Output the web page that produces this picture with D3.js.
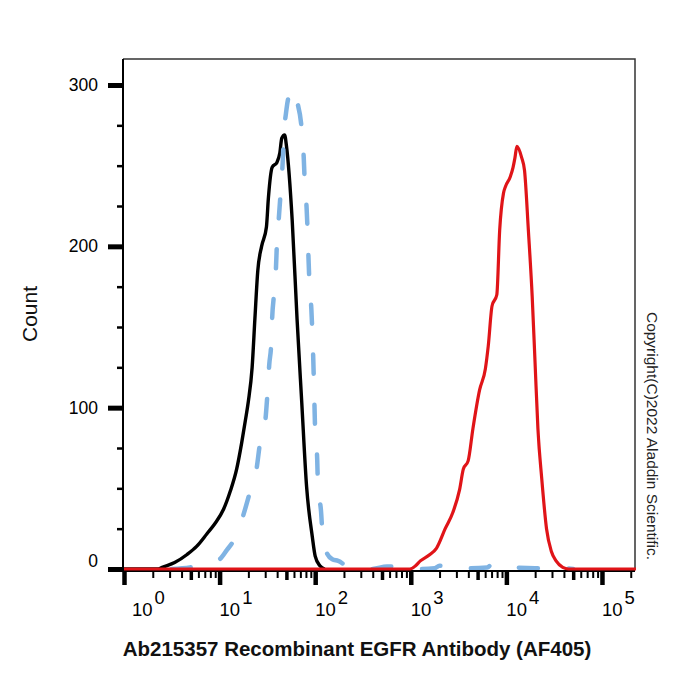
<!DOCTYPE html>
<html>
<head>
<meta charset="utf-8">
<script src="https://cdn.jsdelivr.net/npm/d3@7"></script>
<style>
  html, body { margin: 0; padding: 0; background: #fff; }
  svg { display: block; font-family: "Liberation Sans", Arial, Helvetica, sans-serif; }
</style>
</head>
<body>
<svg id="chart" width="700" height="700"></svg>
<script>
// Histogramme (Fluoreszenz, log-Achse)

// Kontrolle (schwarz, durchgezogen)
const controlX = [1, 2.29, 2.51, 3.39, 4.57, 5.75, 7.41, 8.91, 11.0, 12.9, 15.1, 17.0, 18.6, 20.0, 21.9, 23.4,
  25.1, 27.5, 30.9, 32.4, 35.5, 39.8, 42.7, 44.7, 47.9, 50.1, 57.5, 64.6, 72.4, 81.3, 93.3, 100, 112, 126];
const controlCount = [0, 0, 1, 4, 9, 14, 22, 28, 37, 48, 62, 78, 92, 104, 125, 155,
  185, 200, 212, 230, 249, 252, 258, 267, 269, 262, 216, 155, 103, 51, 20, 8, 2, 0];

// Isotyp (hellblau, gestrichelt)
const isotypeX = [3.16, 4.9, 7.08, 10, 12.0, 13.8, 17.4, 20.4, 24.5, 26.3, 30.2, 31.6, 33.1, 34.7, 35.5, 37.2,
  38.9, 39.8, 41.7, 43.7, 45.7, 46.8, 50.1, 55.0, 58.9, 64.6, 72.4, 75.9, 77.6, 81.3, 83.2, 85.1, 87.1,
  91.2, 93.3, 95.5, 97.7, 100, 105, 107, 115, 120, 132, 151, 174, 229, 282, 398, 562, 891, 1122, 1778,
  1995, 3548, 3981, 6310, 7079, 10471, 12023, 19953, 39811, 50119];
const isotypeCount = [0, 1, 3, 6, 12, 17, 32, 46, 63, 77, 93, 108, 127, 140, 156, 171,
  187, 202, 218, 235, 252, 266, 285, 296, 298, 290, 272, 255, 241, 224, 210, 193, 177,
  161, 147, 130, 108, 85, 68, 51, 36, 20, 10, 6, 5, 1, 0.5, 0, 1.5, 1.5, 0, 0.5,
  2, 2, 0.5, 1, 3, 3, 1, 0.5, 0.5, 0];

// EGFR-Antikörper (rot)
const stainedX = [1, 977, 1122, 1259, 1585, 1862, 2291, 2754, 3236, 3548, 3981, 4467, 5248, 6026, 6457, 7079,
  7943, 8511, 9333, 9772, 10965, 11749, 12303, 12882, 14454, 15488, 16982, 18621, 19953, 21380, 23442,
  26303, 29512, 33113, 38905, 44668, 227000];
const stainedCount = [0, 0, 2, 5, 9, 13, 25, 35, 49, 62, 67, 87, 111, 124, 138, 163,
  170, 210, 233, 237, 243, 249, 255, 262, 255, 247, 210, 169, 128, 87, 56,
  25, 11, 5, 1, 0, 0];

// Achsen
const xMajor = [1, 10, 100, 1e3, 1e4, 1e5];
const xExponents = ["0", "1", "2", "3", "4", "5"];
const yMajor = [0, 100, 200, 300];
const yMinor = [25, 50, 75, 125, 150, 175, 225, 250, 275];

const xTitle = "Ab215357 Recombinant EGFR Antibody (AF405)";
const yTitle = "Count";
const copyright = "Copyright(C)2022 Aladdin Scientific.";

const svg = d3.select("#chart");

const frame = { left: 123, right: 635, top: 59, bottom: 570 };

const x = d3.scaleLog()
  .domain([1, 227000])
  .range([124, 636]);

const y = d3.scaleLinear()
  .domain([0, 300])
  .range([569, 85]);

const xMinor = [];
for (let e = 0; e < 6; e++) {
  for (let k = 2; k <= 9; k++) {
    const v = k * Math.pow(10, e);
    if (v <= 227000) xMinor.push(v);
  }
}

// Rahmen (oben / rechts)
svg.append("path")
  .attr("d", `M${frame.left},${frame.top}H${frame.right}V${frame.bottom}`)
  .attr("fill", "none")
  .attr("stroke", "#333")
  .attr("stroke-width", 1.5);

// Kurven
const line = d3.line()
  .x(d => x(d[0]))
  .y(d => y(d[1]))
  .curve(d3.curveMonotoneX);

const zip = (a, b) => a.map((v, i) => [v, b[i]]);

svg.append("path")
  .datum(zip(controlX, controlCount))
  .attr("d", line)
  .attr("fill", "none")
  .attr("stroke", "#000")
  .attr("stroke-width", 3.4)
  .attr("stroke-linejoin", "round");

svg.append("path")
  .datum(zip(isotypeX, isotypeCount))
  .attr("d", line)
  .attr("fill", "none")
  .attr("stroke", "#7fb3e3")
  .attr("stroke-width", 4.5)
  .attr("stroke-dasharray", "19,31")
  .attr("stroke-linecap", "round");

// x-Achse Linie
svg.append("line")
  .attr("x1", frame.left).attr("x2", frame.right)
  .attr("y1", 571).attr("y2", 571)
  .attr("stroke", "#000")
  .attr("stroke-width", 2);

svg.append("path")
  .datum(zip(stainedX, stainedCount))
  .attr("d", line)
  .attr("fill", "none")
  .attr("stroke", "#e01418")
  .attr("stroke-width", 3.2)
  .attr("stroke-linejoin", "round");

// x-Achse: Ticks
const xMinorAxis = svg.append("g")
  .attr("transform", "translate(0,571)")
  .call(d3.axisBottom(x).tickValues(xMinor).tickSize(7).tickFormat(""));
xMinorAxis.select(".domain").remove();
xMinorAxis.selectAll(".tick line")
  .attr("stroke", "#000")
  .attr("stroke-width", d => (String(d)[0] === "5" ? 3.5 : 2))
  .attr("y2", d => (String(d)[0] === "5" ? 9 : 7));

const xMajorAxis = svg.append("g")
  .attr("transform", "translate(0,571)")
  .call(d3.axisBottom(x).tickValues(xMajor).tickSize(14).tickFormat(""));
xMajorAxis.select(".domain").remove();
xMajorAxis.selectAll(".tick line")
  .attr("stroke", "#000")
  .attr("stroke-width", 4.5);

// x-Achse: Beschriftung 10^n
const xLabels = svg.append("g")
  .attr("font-size", 18.5)
  .attr("fill", "#000");

xMajor.forEach((v, i) => {
  const t = xLabels.append("text")
    .attr("x", x(v) + (i === 0 ? 8 : 0))
    .attr("y", 616);
  t.append("tspan").text("10");
  t.append("tspan")
    .attr("dx", 2)
    .attr("dy", -12)
    .text(xExponents[i]);
});

// y-Achse
const yMinorAxis = svg.append("g")
  .attr("transform", `translate(${frame.left},0)`)
  .call(d3.axisLeft(y).tickValues(yMinor).tickSize(6).tickFormat(""));
yMinorAxis.select(".domain").remove();
yMinorAxis.selectAll(".tick line")
  .attr("stroke", "#000")
  .attr("stroke-width", 2.5);

const yMajorAxis = svg.append("g")
  .attr("transform", `translate(${frame.left},0)`)
  .call(d3.axisLeft(y).tickValues(yMajor).tickSize(15).tickPadding(10).tickFormat(d3.format("d")));
yMajorAxis.select(".domain").remove();
yMajorAxis.selectAll(".tick line")
  .attr("stroke", "#000")
  .attr("stroke-width", 5);
yMajorAxis.selectAll(".tick text")
  .attr("font-size", 17.5)
  .attr("font-family", "Liberation Sans, Arial, sans-serif")
  .attr("fill", "#000")
  .attr("dy", d => (d === 0 ? "-0.15em" : "0.32em"));

svg.append("line")
  .attr("x1", frame.left).attr("x2", frame.left)
  .attr("y1", frame.top).attr("y2", 572)
  .attr("stroke", "#000")
  .attr("stroke-width", 2);

// Titel
svg.append("text")
  .attr("x", 357)
  .attr("y", 656)
  .attr("text-anchor", "middle")
  .attr("font-size", 20.5)
  .attr("font-weight", "bold")
  .attr("fill", "#111")
  .text(xTitle);

svg.append("text")
  .attr("transform", "translate(37,314) rotate(-90)")
  .attr("text-anchor", "middle")
  .attr("font-size", 21)
  .attr("fill", "#111")
  .text(yTitle);

svg.append("text")
  .attr("transform", "translate(647,436) rotate(90)")
  .attr("text-anchor", "middle")
  .attr("font-size", 15.5)
  .attr("fill", "#222")
  .text(copyright);
</script>
</body>
</html>
